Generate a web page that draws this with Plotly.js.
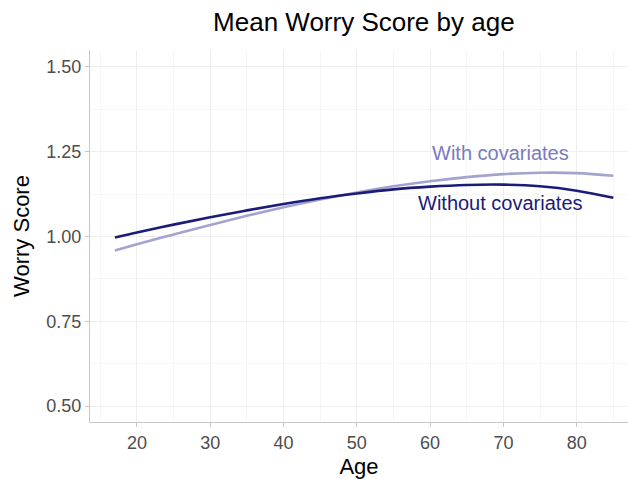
<!DOCTYPE html>
<html>
<head>
<meta charset="utf-8">
<script src="https://cdn.plot.ly/plotly-3.0.1.min.js"></script>
<style>
html,body{margin:0;padding:0;background:#fff;}
#chart{width:628px;height:479px;}
</style>
</head>
<body>
<div id="chart"></div>
<script>
const ages = [17, 20, 25, 30, 35, 40, 45, 50, 55, 60, 65, 70, 75, 80, 85];
const withoutCov = [0.997, 1.012, 1.035, 1.057, 1.077, 1.096, 1.113, 1.127, 1.139, 1.147, 1.152, 1.153, 1.148, 1.135, 1.114];
const withCov = [0.959, 0.977, 1.006, 1.034, 1.061, 1.086, 1.109, 1.130, 1.148, 1.163, 1.175, 1.184, 1.188, 1.187, 1.179];
const xTicks = [20, 30, 40, 50, 60, 70, 80];
const yTicks = [0.5, 0.75, 1.0, 1.25, 1.5];
const yTickText = ["0.50", "0.75", "1.00", "1.25", "1.50"];

const FONT = "Liberation Sans, Arial, sans-serif";
const traces = [
  {x: ages, y: withCov, mode: "lines", line: {color: "#a3a3d0", width: 2.6, shape: "spline"}, hoverinfo: "skip", showlegend: false},
  {x: ages, y: withoutCov, mode: "lines", line: {color: "#1b1b7a", width: 2.6, shape: "spline"}, hoverinfo: "skip", showlegend: false}
];
const layout = {
  width: 628, height: 479,
  margin: {l: 90, r: 0, t: 50, b: 57},
  paper_bgcolor: "#ffffff", plot_bgcolor: "#ffffff",
  font: {family: FONT, color: "#4d4d4d", size: 18},
  title: {text: "Mean Worry Score by age", font: {family: FONT, size: 26, color: "#000000"}, x: 0.509, xref: "paper", xanchor: "center", y: 0.955, yanchor: "middle"},
  xaxis: {
    range: [13.6, 87.0], tickvals: xTicks, ticktext: xTicks.map(String),
    showline: true, linecolor: "#c8c8c8", linewidth: 1.2, mirror: false,
    ticks: "outside", ticklen: 4, tickcolor: "#c8c8c8",
    showgrid: true, gridcolor: "#eeeeee", gridwidth: 1, zeroline: false,
    minor: {dtick: 5, tick0: 15, showgrid: true, gridcolor: "#f6f6f6", gridwidth: 1, ticks: ""},
    tickfont: {family: FONT, size: 18, color: "#4d4d4d"},
    title: {text: "Age", font: {family: FONT, size: 22, color: "#000000"}, standoff: 6}
  },
  yaxis: {
    range: [0.453, 1.55], tickvals: yTicks, ticktext: yTickText,
    showline: true, linecolor: "#c8c8c8", linewidth: 1.2, mirror: false,
    ticks: "outside", ticklen: 4, tickcolor: "#c8c8c8",
    showgrid: true, gridcolor: "#eeeeee", gridwidth: 1, zeroline: false,
    minor: {dtick: 0.125, tick0: 0.375, showgrid: true, gridcolor: "#f6f6f6", gridwidth: 1, ticks: ""},
    tickfont: {family: FONT, size: 18, color: "#4d4d4d"},
    title: {text: "Worry Score", font: {family: FONT, size: 22, color: "#000000"}, standoff: 10}
  },
  annotations: [
    {x: 69.6, y: 1.247, xref: "x", yref: "y", text: "With covariates", showarrow: false, font: {family: FONT, size: 20, color: "#7b7bbb"}, xanchor: "center", yanchor: "middle"},
    {x: 69.6, y: 1.100, xref: "x", yref: "y", text: "Without covariates", showarrow: false, font: {family: FONT, size: 20, color: "#1b1b7a"}, xanchor: "center", yanchor: "middle"}
  ]
};
Plotly.newPlot("chart", traces, layout, {displayModeBar: false, staticPlot: true});
</script>
</body>
</html>
